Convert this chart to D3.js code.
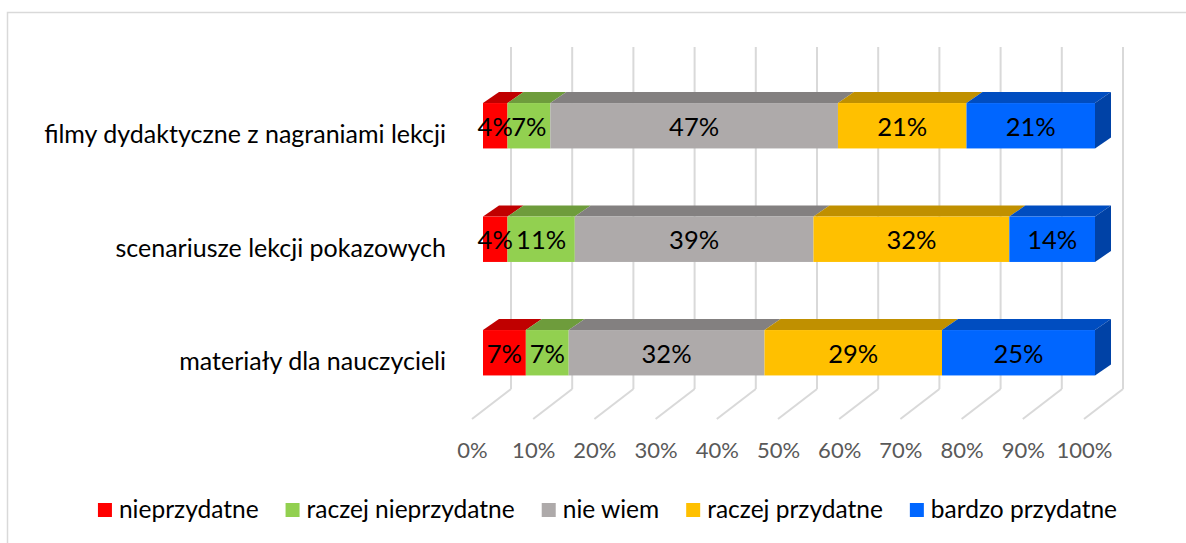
<!DOCTYPE html>
<html>
<head>
<meta charset="utf-8">
<script src="https://cdn.jsdelivr.net/npm/d3@7"></script>
<style>
  body { margin: 0; background: #fff; }
  svg { display: block; font-family: Lato, "Open Sans", sans-serif; }
</style>
</head>
<body>
<svg id="chart"></svg>
<script>
// categories, top to bottom
const categories = [
    "filmy dydaktyczne z nagraniami lekcji",
    "scenariusze lekcji pokazowych",
    "materiały dla nauczycieli"
];
const seriesNames = ["nieprzydatne", "raczej nieprzydatne", "nie wiem", "raczej przydatne", "bardzo przydatne"];
const seriesColors = ["#FF0000", "#92D050", "#AEAAAA", "#FFC000", "#0066FF"];

// percentages per category
const nieprzydatne = [4, 4, 7];
const raczejNieprzydatne = [7, 11, 7];
const nieWiem = [47, 39, 32];
const raczejPrzydatne = [21, 32, 29];
const bardzoPrzydatne = [21, 14, 25];

const tickValues = [0, 10, 20, 30, 40, 50, 60, 70, 80, 90, 100];

const width = 1186;
const height = 543;

const svg = d3.select("#chart")
    .attr("width", width)
    .attr("height", height);

// outer chart border (cut off at right/bottom like the screenshot)
svg.append("rect")
    .attr("x", 7.5).attr("y", 12.5)
    .attr("width", 1300).attr("height", 700)
    .attr("fill", "none")
    .attr("stroke", "#D9D9D9")
    .attr("stroke-width", 1.5);

const allSeries = [nieprzydatne, raczejNieprzydatne, nieWiem, raczejPrzydatne, bardzoPrzydatne];
let rows = categories.map((c, i) => {
    let row = { category: c };
    seriesNames.forEach((s, j) => { row[s] = allSeries[j][i]; });
    return row;
});

let stacked = d3.stack().keys(seriesNames)(rows);

// front of floor
const x = d3.scaleLinear().domain([0, 100]).range([472, 1084]);
const y = d3.scaleBand()
    .domain(categories)
    .range([69, 409.5])
    .paddingInner(0.6)
    .paddingOuter(0.3);

// 3d geometry
const floorDepth = { dx: 39, dy: -30 };
const floorFrontY = 419;
const wallTop = 47;
const barShift = 11;            // bar front sits a bit behind floor front
const barDepth = { dx: 16, dy: -11 };

// back wall gridlines
svg.append("g").selectAll("line")
    .data(tickValues)
    .join("line")
    .attr("x1", d => x(d) + floorDepth.dx)
    .attr("x2", d => x(d) + floorDepth.dx)
    .attr("y1", wallTop)
    .attr("y2", floorFrontY + floorDepth.dy)
    .attr("stroke", "#D9D9D9")
    .attr("stroke-width", 2);

// floor lines
svg.append("g").selectAll("line")
    .data(tickValues)
    .join("line")
    .attr("x1", d => x(d) + floorDepth.dx)
    .attr("y1", floorFrontY + floorDepth.dy)
    .attr("x2", d => x(d))
    .attr("y2", floorFrontY)
    .attr("stroke", "#D9D9D9")
    .attr("stroke-width", 2);

// bars
const bx = v => x(v) + barShift;
const bh = y.bandwidth();

stacked.forEach((layer, li) => {
    let color = seriesColors[li];
    let topColor = d3.color(color).darker(0.8);
    let g = svg.append("g");

    g.selectAll("path.top")
        .data(layer)
        .join("path")
        .attr("class", "top")
        .attr("fill", topColor)
        .attr("d", d => {
            let x0 = bx(d[0]), x1 = bx(d[1]), yy = y(d.data.category);
            return `M${x0},${yy}L${x1},${yy}L${x1 + barDepth.dx},${yy + barDepth.dy}L${x0 + barDepth.dx},${yy + barDepth.dy}Z`;
        });

    g.selectAll("rect")
        .data(layer)
        .join("rect")
        .attr("x", d => bx(d[0]))
        .attr("y", d => y(d.data.category))
        .attr("width", d => bx(d[1]) - bx(d[0]))
        .attr("height", bh)
        .attr("fill", color);

    if (li == stacked.length - 1) {
        g.selectAll("path.side")
            .data(layer)
            .join("path")
            .attr("class", "side")
            .attr("fill", d3.color(color).darker(1.2))
            .attr("d", d => {
                let x1 = bx(d[1]), yy = y(d.data.category);
                return `M${x1},${yy}L${x1 + barDepth.dx},${yy + barDepth.dy}L${x1 + barDepth.dx},${yy + bh + barDepth.dy}L${x1},${yy + bh}Z`;
            });
    }
});

// value labels
stacked.forEach(layer => {
    svg.append("g").selectAll("text")
        .data(layer)
        .join("text")
        .attr("x", d => (bx(d[0]) + bx(d[1])) / 2)
        .attr("y", d => y(d.data.category) + bh / 2 + 10)
        .attr("text-anchor", "middle")
        .attr("font-size", "25.5px")
        .attr("fill", "#000")
        .text(d => (d[1] - d[0]) + "%");
});

// category labels
svg.append("g").selectAll("text")
    .data(categories)
    .join("text")
    .attr("x", 446)
    .attr("y", d => y(d) + bh / 2 + 17.5)
    .attr("text-anchor", "end")
    .attr("font-size", "25px")
    .attr("fill", "#000")
    .text(d => d);

// x axis labels
let xAxis = svg.append("g")
    .attr("transform", `translate(0, 442)`)
    .call(d3.axisBottom(x).tickValues(tickValues).tickFormat(d => d + "%").tickSize(0).tickPadding(0));
xAxis.select(".domain").remove();
xAxis.selectAll("text")
    .attr("font-family", "Lato, 'Open Sans', sans-serif")
    .attr("font-size", "22px")
    .attr("fill", "#595959");

// legend
const legendSquare = 14;
const legendGap = 27;
let legend = svg.append("g");
let items = legend.selectAll("g")
    .data(seriesNames)
    .join("g");
items.append("rect")
    .attr("width", legendSquare)
    .attr("height", legendSquare)
    .attr("y", 503)
    .attr("fill", (d, i) => seriesColors[i]);
items.append("text")
    .attr("x", legendSquare + 7)
    .attr("y", 517.5)
    .attr("font-size", "24.5px")
    .attr("fill", "#000")
    .text(d => d);

let offset = 0;
let offsets = [];
items.each(function () {
    offsets.push(offset);
    let w = legendSquare + 7 + d3.select(this).select("text").node().getComputedTextLength();
    offset += w + legendGap;
});
let totalWidth = offset - legendGap;
let legendStart = 607.5 - totalWidth / 2;
items.attr("transform", (d, i) => `translate(${legendStart + offsets[i]},0)`);
</script>
</body>
</html>
